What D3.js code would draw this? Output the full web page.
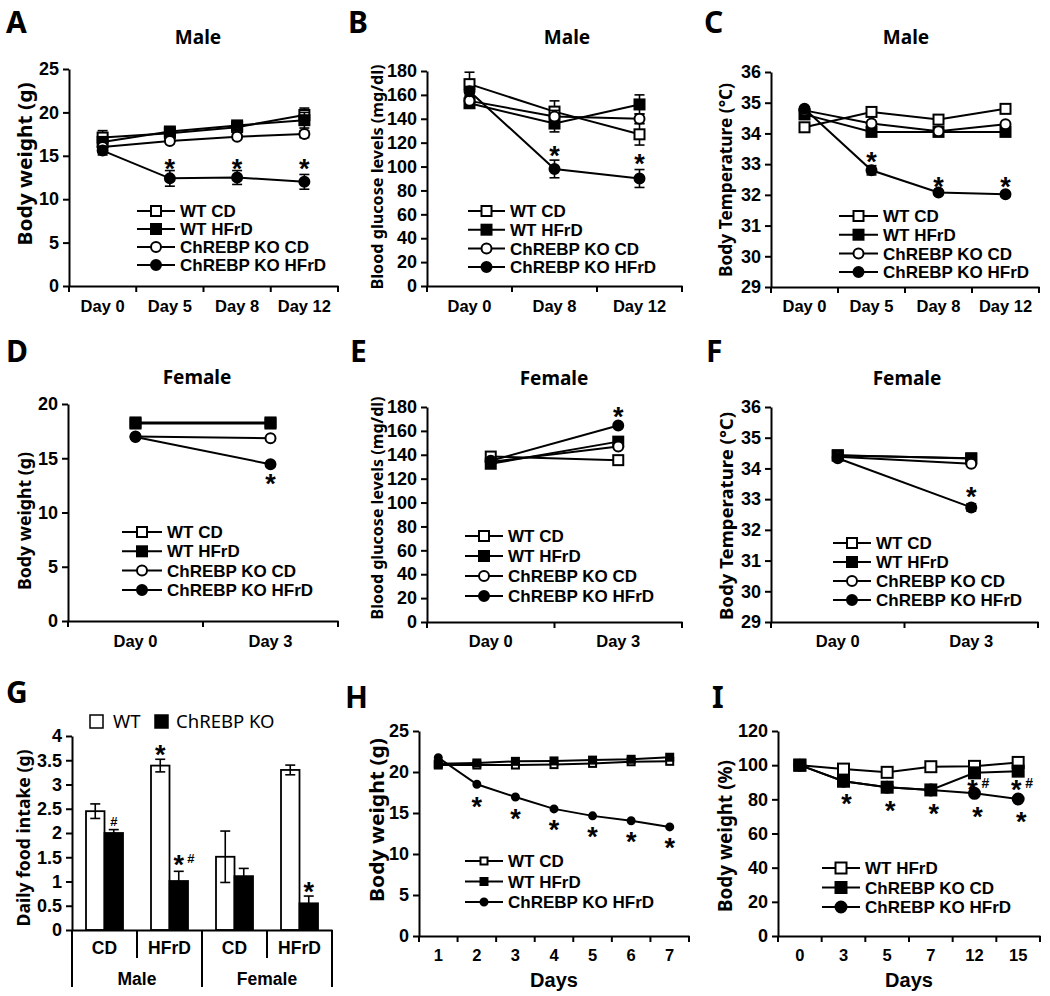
<!DOCTYPE html>
<html><head><meta charset="utf-8">
<script src="https://cdn.jsdelivr.net/npm/d3@7"></script>
<style>body{margin:0;background:#fff}</style>
</head><body>
<svg id="c" width="1050" height="996" xmlns="http://www.w3.org/2000/svg"></svg>
<script>
// ---------------- DATA ----------------
const legend4 = ["WT CD", "WT HFrD", "ChREBP KO CD", "ChREBP KO HFrD"];

// A: Male body weight
const aDays = ["Day 0", "Day 5", "Day 8", "Day 12"];
const aWtCd = [17.1, 17.6, 18.3, 19.7];
const aWtCdErr = [0.8, 0.3, 0.3, 0.8];
const aWtHfrd = [16.6, 17.8, 18.5, 19.1];
const aWtHfrdErr = [0.4, 0.3, 0.3, 0.9];
const aKoCd = [16.0, 16.7, 17.2, 17.5];
const aKoCdErr = [0.3, 0.3, 0.3, 0.4];
const aKoHfrd = [15.6, 12.4, 12.5, 12.0];
const aKoHfrdErr = [0.5, 0.9, 0.8, 0.85];
const aTicks = [0, 5, 10, 15, 20, 25];
const aStars = [[1, 14.2], [2, 14.2], [3, 14.2]];

// B: Male blood glucose
const bDays = ["Day 0", "Day 8", "Day 12"];
const bWtCd = [169, 146, 127];
const bWtCdErr = [10, 9, 9];
const bWtHfrd = [153, 136, 152];
const bWtHfrdErr = [3, 7, 8];
const bKoCd = [155, 142, 140];
const bKoCdErr = [3, 5, 4];
const bKoHfrd = [163, 98, 90];
const bKoHfrdErr = [4, 7.4, 7.5];
const bTicks = [0, 20, 40, 60, 80, 100, 120, 140, 160, 180];
const bStars = [[1, 114], [2, 108]];

// C: Male body temperature
const cDays = ["Day 0", "Day 5", "Day 8", "Day 12"];
const cWtCd = [34.2, 34.7, 34.45, 34.8];
const cWtHfrd = [34.62, 34.05, 34.05, 34.05];
const cKoCd = [34.75, 34.32, 34.07, 34.3];
const cKoHfrd = [34.8, 32.8, 32.08, 32.02];
const cKoHfrdErr = [0.05, 0.15, 0.05, 0.05];
const cTicks = [29, 30, 31, 32, 33, 34, 35, 36];
const cStars = [[1, 33.3], [2, 32.48], [3, 32.48]];

// D: Female body weight
const dDays = ["Day 0", "Day 3"];
const dWtCd = [18.2, 18.2];
const dWtHfrd = [18.3, 18.3];
const dKoCd = [17.0, 16.85];
const dKoHfrd = [16.95, 14.45];
const dTicks = [0, 5, 10, 15, 20];
const dStars = [[1, 13.2]];

// E: Female blood glucose
const eDays = ["Day 0", "Day 3"];
const eWtCd = [138.5, 135.5];
const eWtHfrd = [132.5, 151];
const eKoCd = [134, 147];
const eKoHfrd = [135, 164.5];
const eTicks = [0, 20, 40, 60, 80, 100, 120, 140, 160, 180];
const eStars = [[1, 177]];

// F: Female body temperature
const fDays = ["Day 0", "Day 3"];
const fWtCd = [34.42, 34.33];
const fWtHfrd = [34.43, 34.32];
const fKoCd = [34.38, 34.15];
const fKoHfrd = [34.33, 32.73];
const fKoHfrdErr = [0.05, 0.12];
const fTicks = [29, 30, 31, 32, 33, 34, 35, 36];
const fStars = [[1, 33.3]];

// G: Daily food intake
const gDiets = ["CD", "HFrD", "CD", "HFrD"];
const gSexes = ["Male", "Female"];
const gGenotypes = ["WT", "ChREBP KO"];
const gWt = [2.45, 3.39, 1.51, 3.30];
const gWtErr = [0.15, 0.13, 0.53, 0.10];
const gKo = [2.00, 1.01, 1.11, 0.55];
const gKoErr = [0.07, 0.20, 0.16, 0.15];
const gTicks = [0, 0.5, 1, 1.5, 2, 2.5, 3, 3.5, 4];
const gMarks = [["KO", 0, 2.31, "#"], ["WT", 1, 3.75, "*"], ["KO", 1, 1.48, "*#"], ["KO", 3, 0.93, "*"]];

// H: Body weight over days
const hDays = ["1", "2", "3", "4", "5", "6", "7"];
const hLegend = ["WT CD", "WT HFrD", "ChREBP KO HFrD"];
const hWtCd = [20.85, 20.85, 20.85, 20.9, 21.05, 21.25, 21.3];
const hWtHfrd = [21.0, 21.1, 21.3, 21.35, 21.45, 21.55, 21.8];
const hKoHfrd = [21.75, 18.5, 16.95, 15.5, 14.65, 14.05, 13.3];
const hTicks = [0, 5, 10, 15, 20, 25];
const hStars = [[1, 16.6], [2, 15.1], [3, 13.8], [4, 12.9], [5, 12.3], [6, 11.6]];

// I: Body weight (%)
const iDays = ["0", "3", "5", "7", "12", "15"];
const iLegend = ["WT HFrD", "ChREBP KO CD", "ChREBP KO HFrD"];
const iWtHfrd = [100, 97.7, 95.8, 99.1, 99.3, 101.6];
const iKoCd = [100, 90.6, 87.1, 85.5, 95.5, 96.5];
const iKoHfrd = [100, 90.6, 87.1, 85.5, 83.5, 80.2];
const iTicks = [0, 20, 40, 60, 80, 100, 120];
const iStars = [[1, 81.4], [2, 77.3], [3, 75.5], [4, 73.7], [5, 70.8]];
const iStarHash = [[4, 89.6], [5, 89.6]];

// ---------------- DRAWING ----------------
const AF = "'Liberation Sans', Arial, sans-serif";
const NF = "'Noto Sans', 'Open Sans', sans-serif";
const svg = d3.select("#c");
svg.append("rect").attr("width", 1050).attr("height", 996).attr("fill", "#fff");

function marker(g, type, cx, cy, s) {
  const open = type[0] === "o";
  if (type.endsWith("sq")) {
    g.append("rect").attr("x", cx - s / 2).attr("y", cy - s / 2).attr("width", s).attr("height", s)
      .attr("fill", open ? "#fff" : "#000").attr("stroke", "#000").attr("stroke-width", 2);
  } else {
    g.append("circle").attr("cx", cx).attr("cy", cy).attr("r", s / 2)
      .attr("fill", open ? "#fff" : "#000").attr("stroke", "#000").attr("stroke-width", 2);
  }
}

function styleAxis(sel, fs) {
  sel.selectAll("path,line").attr("stroke", "#000").attr("stroke-width", 2);
  sel.selectAll("text").attr("font-family", AF).attr("font-weight", "bold")
    .attr("font-size", fs).attr("fill", "#000");
}

function star(g, x, y, txt, fs) {
  g.append("text").attr("x", x).attr("y", y + fs * 0.58).attr("text-anchor", "middle")
    .attr("font-family", AF).attr("font-weight", "bold").attr("font-size", fs).text(txt);
}

function letter(t, x, y) {
  svg.append("text").attr("x", x).attr("y", y).attr("font-family", NF).attr("font-weight", "bold")
    .attr("font-size", 30).text(t);
}

function ylabel(t, x, y, len, fs) {
  svg.append("text").attr("transform", `translate(${x},${y}) rotate(-90)`).attr("text-anchor", "middle")
    .attr("dominant-baseline", "central").attr("font-family", NF).attr("font-weight", "bold")
    .attr("font-size", fs).attr("textLength", len).attr("lengthAdjust", "spacingAndGlyphs").text(t);
}

function title(t, x, y) {
  svg.append("text").attr("x", x).attr("y", y).attr("text-anchor", "middle").attr("dominant-baseline", "central")
    .attr("font-family", NF).attr("font-weight", "bold").attr("font-size", 19).text(t);
}

function linePanel(c) {
  const g = svg.append("g");
  const y = d3.scaleLinear().domain(c.domain).range([c.yB, c.yT]);
  const x = d3.scaleBand().domain(c.cats).range([c.x0, c.x1]).padding(0);
  const ya = g.append("g").attr("transform", `translate(${c.x0},0)`)
    .call(d3.axisLeft(y).tickValues(c.ticks).tickSize(6).tickSizeOuter(0).tickPadding(4).tickFormat(d => String(d)));
  styleAxis(ya, 18);
  const xa = g.append("g").attr("transform", `translate(0,${c.yB})`)
    .call(d3.axisBottom(x).tickSize(0).tickSizeOuter(0));
  styleAxis(xa, c.xfs || 16.5);
  xa.selectAll("text").attr("y", c.xlab).attr("dy", 0);
  g.append("g").selectAll("line").data(d3.range(c.cats.length + 1)).join("line")
    .attr("x1", i => c.x0 + i * x.step()).attr("x2", i => c.x0 + i * x.step())
    .attr("y1", c.yB).attr("y2", c.yB + 6).attr("stroke", "#000").attr("stroke-width", 2);
  const cx = i => x(c.cats[i]) + x.bandwidth() / 2;
  const line = d3.line().x((d, i) => cx(i)).y(d => y(d));
  const s = c.ms || 10;
  c.series.forEach(se => {
    g.append("path").attr("d", line(se.v)).attr("fill", "none").attr("stroke", "#000").attr("stroke-width", 2);
    if (se.e) se.e.forEach((e, i) => {
      const xx = cx(i), v = se.v[i];
      g.append("line").attr("x1", xx).attr("x2", xx).attr("y1", y(v - e)).attr("y2", y(v + e)).attr("stroke", "#000").attr("stroke-width", 1.6);
      [v - e, v + e].forEach(w => g.append("line").attr("x1", xx - 5).attr("x2", xx + 5).attr("y1", y(w)).attr("y2", y(w)).attr("stroke", "#000").attr("stroke-width", 1.6));
    });
    se.v.forEach((v, i) => marker(g, se.m, cx(i), y(v), s));
  });
  (c.stars || []).forEach(([i, v]) => star(g, cx(i) + (c.starDx || 0), y(v), "*", 27));
  (c.starHash || []).forEach(([i, v]) => {
    star(g, cx(i) - 2, y(v), "*", 27);
    star(g, cx(i) + 11, y(v) - 3, "#", 14);
  });
  // legend
  const L = c.legend;
  L.names.forEach((n, k) => {
    const yy = L.y + k * L.dy;
    g.append("line").attr("x1", L.x).attr("x2", L.x + L.w).attr("y1", yy).attr("y2", yy).attr("stroke", "#000").attr("stroke-width", 2);
    marker(g, L.m[k], L.x + L.w / 2, yy, L.ms || s);
    g.append("text").attr("x", L.x + L.w + 5).attr("y", yy).attr("dy", "0.36em").attr("font-family", AF)
      .attr("font-weight", "bold").attr("font-size", 17).text(n);
  });
  if (c.xtitle) {
    g.append("text").attr("x", (c.x0 + c.x1) / 2).attr("y", c.xtitle).attr("text-anchor", "middle")
      .attr("font-family", AF).attr("font-weight", "bold").attr("font-size", 20).text("Days");
  }
}

const m4 = ["osq", "fsq", "oci", "fci"];

// A
letter("A", 6, 33); title("Male", 198, 37); ylabel("Body weight (g)", 24, 164, 163, 20);
linePanel({ x0: 69, x1: 338, yT: 69, yB: 286, domain: [0, 25], ticks: aTicks, cats: aDays, xlab: 26,
  series: [{ v: aWtCd, e: aWtCdErr, m: "osq" }, { v: aWtHfrd, e: aWtHfrdErr, m: "fsq" }, { v: aKoCd, e: aKoCdErr, m: "oci" }, { v: aKoHfrd, e: aKoHfrdErr, m: "fci" }],
  stars: aStars, legend: { x: 137, y: 211, dy: 18, w: 38, names: legend4, m: m4 } });

// B
letter("B", 348, 33); title("Male", 567, 37); ylabel("Blood glucose levels (mg/dl)", 376, 177, 225, 16.5);
linePanel({ x0: 427, x1: 682, yT: 71, yB: 286, domain: [0, 180], ticks: bTicks, cats: bDays, xlab: 26,
  series: [{ v: bWtCd, e: bWtCdErr, m: "osq" }, { v: bWtHfrd, e: bWtHfrdErr, m: "fsq" }, { v: bKoCd, e: bKoCdErr, m: "oci" }, { v: bKoHfrd, e: bKoHfrdErr, m: "fci" }],
  stars: bStars, legend: { x: 468, y: 211, dy: 18.7, w: 37, names: legend4, m: m4 } });

// C
letter("C", 704, 33); title("Male", 906, 37); ylabel("Body Temperature (\u00B0C)", 725, 180, 194, 17.5);
linePanel({ x0: 771, x1: 1039, yT: 72, yB: 287, domain: [29, 36], ticks: cTicks, cats: cDays, xlab: 25,
  series: [{ v: cWtCd, m: "osq" }, { v: cWtHfrd, m: "fsq" }, { v: cKoCd, m: "oci" }, { v: cKoHfrd, e: cKoHfrdErr, m: "fci" }],
  stars: cStars, legend: { x: 839, y: 216, dy: 18.7, w: 39, names: legend4, m: m4 } });

// D
letter("D", 6, 362); title("Female", 197, 377); ylabel("Body weight (g)", 24, 521, 138, 18);
linePanel({ x0: 68, x1: 338, yT: 404, yB: 621, domain: [0, 20], ticks: dTicks, cats: dDays, xlab: 26,
  series: [{ v: dWtCd, m: "osq" }, { v: dWtHfrd, m: "fsq" }, { v: dKoCd, m: "oci" }, { v: dKoHfrd, m: "fci" }],
  stars: dStars, legend: { x: 122, y: 532, dy: 19.3, w: 40, names: legend4, m: m4 } });

// E
letter("E", 350, 362); title("Female", 554, 378); ylabel("Blood glucose levels (mg/dl)", 376, 508, 223, 16.5);
linePanel({ x0: 427, x1: 682, yT: 407, yB: 622, domain: [0, 180], ticks: eTicks, cats: eDays, xlab: 25,
  series: [{ v: eWtCd, m: "osq" }, { v: eWtHfrd, m: "fsq" }, { v: eKoCd, m: "oci" }, { v: eKoHfrd, m: "fci" }],
  stars: eStars, legend: { x: 465, y: 536, dy: 20, w: 38, names: legend4, m: m4 } });

// F
letter("F", 706, 362); title("Female", 907, 378); ylabel("Body Temperature (\u00B0C)", 725, 516, 208, 18.5);
linePanel({ x0: 771, x1: 1038, yT: 407, yB: 622, domain: [29, 36], ticks: fTicks, cats: fDays, xlab: 25,
  series: [{ v: fWtCd, m: "osq" }, { v: fWtHfrd, m: "fsq" }, { v: fKoCd, m: "oci" }, { v: fKoHfrd, e: fKoHfrdErr, m: "fci" }],
  stars: fStars, legend: { x: 833, y: 543, dy: 19, w: 38, names: legend4, m: m4 } });

// H
letter("H", 345, 708); ylabel("Body weight (g)", 376, 820, 164, 20);
linePanel({ x0: 419, x1: 689, yT: 731, yB: 936, domain: [0, 25], ticks: hTicks, cats: hDays, xlab: 25, xtitle: 987, ms: 7,
  series: [{ v: hWtCd, m: "osq" }, { v: hWtHfrd, m: "fsq" }, { v: hKoHfrd, m: "fci" }],
  stars: hStars, legend: { x: 465, y: 861, dy: 20.5, w: 38, names: hLegend, m: ["osq", "fsq", "fci"], ms: 7 } });

// I
letter("I", 712, 708); ylabel("Body weight (%)", 725, 836, 152, 19);
linePanel({ x0: 778, x1: 1040, yT: 731, yB: 936, domain: [0, 120], ticks: iTicks, cats: iDays, xlab: 25, xtitle: 987, ms: 11,
  series: [{ v: iKoHfrd, m: "fci" }, { v: iWtHfrd, m: "osq" }, { v: iKoCd, m: "fsq" }],
  stars: iStars, starHash: iStarHash, starDx: 3,
  legend: { x: 822, y: 868, dy: 19.5, w: 38, names: iLegend, m: ["osq", "fsq", "fci"], ms: 11 } });

// G (bar chart)
(function () {
  const x0 = 72, x1 = 332, yT = 736, yB = 930;
  letter("G", 6, 703); ylabel("Daily food intake (g)", 23, 838, 177, 18);
  const g = svg.append("g");
  const y = d3.scaleLinear().domain([0, 4]).range([yB, yT]);
  const xg = d3.scaleBand().domain(d3.range(gDiets.length)).range([x0, x1]).padding(0);
  const xb = d3.scaleBand().domain(["WT", "KO"]).range([14, xg.step() - 14]).padding(0);
  const ya = g.append("g").attr("transform", `translate(${x0},0)`)
    .call(d3.axisLeft(y).tickValues(gTicks).tickSize(6).tickSizeOuter(0).tickPadding(4).tickFormat(d => String(d)));
  styleAxis(ya, 18);
  const bars = [["WT", gWt, gWtErr, "#fff"], ["KO", gKo, gKoErr, "#000"]];
  bars.forEach(([k, vals, errs, fill]) => {
    vals.forEach((v, i) => {
      const bx = xg(i) + xb(k);
      g.append("rect").attr("x", bx).attr("y", y(v)).attr("width", xb.bandwidth()).attr("height", yB - y(v))
        .attr("fill", fill).attr("stroke", "#000").attr("stroke-width", 1.8);
      const cx = bx + xb.bandwidth() / 2, e = errs[i];
      const lo = fill === "#fff" ? v - e : v;
      g.append("line").attr("x1", cx).attr("x2", cx).attr("y1", y(lo)).attr("y2", y(v + e)).attr("stroke", "#000").attr("stroke-width", 1.6);
      const caps = fill === "#fff" ? [v + e, v - e] : [v + e];
      caps.forEach(w => g.append("line").attr("x1", cx - 5).attr("x2", cx + 5).attr("y1", y(w)).attr("y2", y(w))
        .attr("stroke", "#000").attr("stroke-width", 1.6));
    });
  });
  const xa = g.append("g").attr("transform", `translate(0,${yB})`)
    .call(d3.axisBottom(xg).tickSize(0).tickSizeOuter(0).tickFormat(i => gDiets[i]));
  styleAxis(xa, 17.5);
  xa.selectAll("text").attr("y", 24).attr("dy", 0);
  g.append("g").selectAll("line").data(d3.range(gDiets.length + 1)).join("line")
    .attr("x1", i => x0 + i * xg.step()).attr("x2", i => x0 + i * xg.step())
    .attr("y1", yB).attr("y2", i => (i % 2 === 0 ? yB + 57 : yB + 28)).attr("stroke", "#000").attr("stroke-width", 2);
  gSexes.forEach((sx, j) => {
    g.append("text").attr("x", x0 + (2 * j + 1) * xg.step()).attr("y", 985).attr("text-anchor", "middle")
      .attr("font-family", AF).attr("font-weight", "bold").attr("font-size", 17.5).text(sx);
  });
  gMarks.forEach(([k, i, v, t]) => {
    const cx = xg(i) + xb(k) + xb.bandwidth() / 2;
    if (t === "#") star(g, cx, y(v), "#", 13);
    else if (t === "*") star(g, cx, y(v), "*", 27);
    else { star(g, cx, y(v), "*", 27); star(g, cx + 12, y(v) - 3, "#", 13); }
  });
  // legend
  [["#fff", 90, 113], ["#000", 155, 176]].forEach(([f, rx, tx], k) => {
    g.append("rect").attr("x", rx).attr("y", 715).attr("width", 13).attr("height", 13).attr("fill", f).attr("stroke", "#000").attr("stroke-width", 1.5);
    g.append("text").attr("x", tx).attr("y", 721.5).attr("dy", "0.36em").attr("font-family", NF).attr("font-size", 18.5).text(gGenotypes[k]);
  });
})();
</script>
</body></html>
